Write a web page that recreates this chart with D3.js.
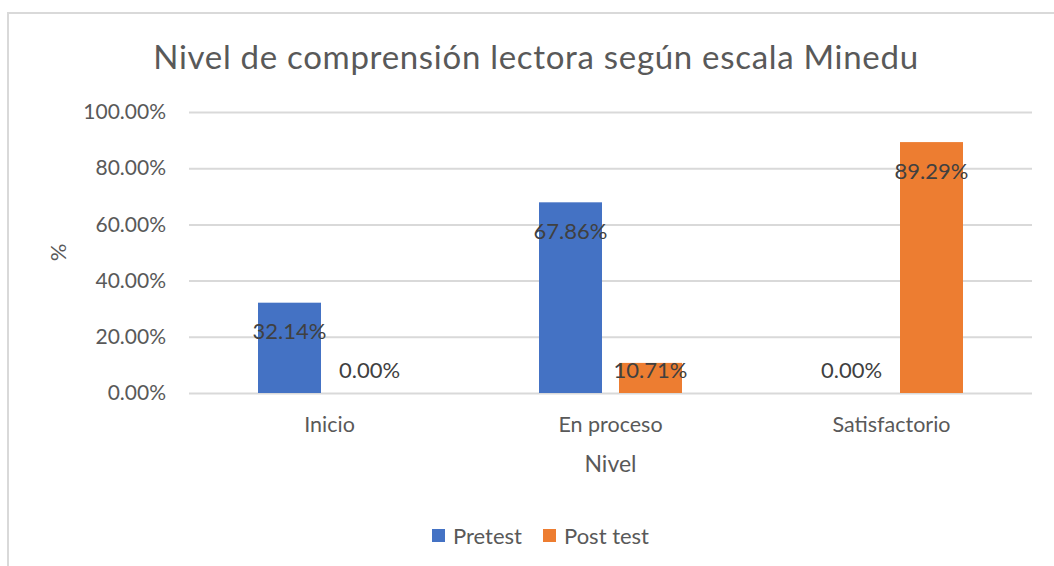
<!DOCTYPE html>
<html>
<head>
<meta charset="utf-8">
<script src="https://cdn.jsdelivr.net/npm/d3@7"></script>
<style>
  body { margin: 0; background: #fff; }
  svg { display: block; font-family: Lato, 'Open Sans', sans-serif; }
</style>
</head>
<body>
<div class="chart"></div>
<script>
// Categories, series and values
const categories = ['Inicio', 'En proceso', 'Satisfactorio']
const seriesNames = ['Pretest', 'Post test']
const pretest = [32.14, 67.86, 0.00]
const postTest = [0.00, 10.71, 89.29]
const yTicks = [0, 20, 40, 60, 80, 100]
const colors = ['#4472C4', '#ED7D31']

const titleText = 'Nivel de comprensión lectora según escala Minedu'
const xTitle = 'Nivel'
const yTitle = '%'

;(function () {
  const width = 1054
  const height = 566
  const margin = { top: 112, right: 22, bottom: 173, left: 189 }
  const w = width - margin.left - margin.right
  const h = height - margin.top - margin.bottom

  const data = categories.map((c, i) => ({ cat: c, values: [pretest[i], postTest[i]] }))

  const svg = d3.select('.chart').append('svg')
    .attr('width', width)
    .attr('height', height)

  // chart border (only top and left visible, cut on the other sides)
  svg.append('path')
    .attr('d', 'M8,' + height + 'V13H' + width)
    .attr('fill', 'none')
    .attr('stroke', '#d9d9d9')
    .attr('stroke-width', 2)

  svg.append('text')
    .attr('x', 536)
    .attr('y', 69)
    .attr('text-anchor', 'middle')
    .attr('font-size', 33)
    .attr('letter-spacing', 0.7)
    .attr('fill', '#595959')
    .text(titleText)

  const g = svg.append('g').attr('transform', translation(margin.left, margin.top))

  /** * ---------------- scales ---------------- ***/
  const x0 = d3.scaleBand().domain(categories).range([0, w])
  const groupW = 143
  const x1 = d3.scaleBand()
    .domain(seriesNames)
    .range([(x0.bandwidth() - groupW) / 2, (x0.bandwidth() + groupW) / 2])
    .paddingInner(0.2125)
  const y = d3.scaleLinear().domain([0, 100]).range([h, 0])

  /** * ---------------- grid + y axis ---------------- ***/
  const yAxis = d3.axisLeft(y)
    .tickValues(yTicks)
    .tickSize(-w)
    .tickPadding(23)
    .tickFormat(d => d.toFixed(2) + '%')

  const ya = g.append('g').call(yAxis)
  ya.select('.domain').remove()
  ya.selectAll('line').attr('stroke', '#d9d9d9').attr('stroke-width', 2)
  ya.selectAll('text')
    .attr('font-size', 21)
    .attr('fill', '#595959')
    .attr('font-family', 'Lato, sans-serif')

  /** * ---------------- x axis ---------------- ***/
  const xAxis = d3.axisBottom(x0).tickSize(0).tickPadding(24)
  const xa = g.append('g').attr('transform', translation(0, h)).call(xAxis)
  xa.select('.domain').remove()
  xa.selectAll('text')
    .attr('font-size', 21.5)
    .attr('fill', '#595959')
    .attr('font-family', 'Lato, sans-serif')

  /** * ---------------- bars ---------------- ***/
  const groups = g.selectAll('.cat')
    .data(data)
    .enter().append('g')
    .attr('class', 'cat')
    .attr('transform', d => translation(x0(d.cat), 0))

  groups.selectAll('rect')
    .data(d => d.values.map((v, i) => ({ key: seriesNames[i], v: v, i: i })))
    .enter().append('rect')
    .attr('x', d => x1(d.key))
    .attr('y', d => y(d.v))
    .attr('width', x1.bandwidth())
    .attr('height', d => h - y(d.v))
    .attr('fill', d => colors[d.i])

  // data labels
  groups.selectAll('.lbl')
    .data(d => d.values.map((v, i) => ({ key: seriesNames[i], v: v, i: i })))
    .enter().append('text')
    .attr('class', 'lbl')
    .attr('x', d => x1(d.key) + x1.bandwidth() / 2)
    .attr('y', d => Math.min(y(d.v) + 29, h - 23))
    .attr('dy', '0.35em')
    .attr('text-anchor', 'middle')
    .attr('font-size', 22)
    .attr('fill', '#404040')
    .text(d => d.v.toFixed(2) + '%')

  /** * ---------------- axis titles ---------------- ***/
  svg.append('text')
    .attr('x', margin.left + w / 2)
    .attr('y', 464)
    .attr('dy', '0.35em')
    .attr('text-anchor', 'middle')
    .attr('font-size', 23)
    .attr('fill', '#595959')
    .text(xTitle)

  svg.append('text')
    .attr('transform', translation(58, margin.top + h / 2) + ' rotate(-90)')
    .attr('dy', '0.35em')
    .attr('text-anchor', 'middle')
    .attr('font-size', 22)
    .attr('fill', '#595959')
    .text(yTitle)

  /** * ---------------- legend ---------------- ***/
  const legendX = [432, 543]
  const legend = svg.append('g')
  seriesNames.forEach((s, i) => {
    legend.append('rect')
      .attr('x', legendX[i])
      .attr('y', 529)
      .attr('width', 13)
      .attr('height', 13)
      .attr('fill', colors[i])
    legend.append('text')
      .attr('x', legendX[i] + 21)
      .attr('y', 536)
      .attr('dy', '0.35em')
      .attr('font-size', 22)
      .attr('fill', '#595959')
      .text(s)
  })

  function translation (x, y) {
    return 'translate(' + x + ',' + y + ')'
  }
}())
</script>
</body>
</html>
